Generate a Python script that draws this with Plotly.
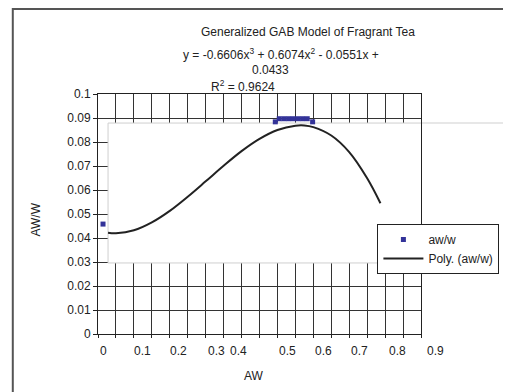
import plotly.graph_objects as go

# ---- data ----
aw_points = [0.014, 0.494, 0.505, 0.518, 0.531, 0.544, 0.557, 0.570, 0.583, 0.598]
aww_points = [0.0458, 0.0884, 0.0897, 0.0897, 0.0897, 0.0897, 0.0897, 0.0897, 0.0897, 0.0884]

poly_x = [0.028, 0.05, 0.10, 0.15, 0.20, 0.25, 0.30, 0.35, 0.40, 0.45, 0.50, 0.55, 0.575,
          0.60, 0.65, 0.70, 0.75, 0.787]
poly_y = [0.0422, 0.0420, 0.0432, 0.0465, 0.0513, 0.0572, 0.0636, 0.0701, 0.0762, 0.0813,
          0.0850, 0.0868, 0.0869, 0.0862, 0.0827, 0.0758, 0.0649, 0.0545]

x_tick_labels = ["0", "0.1", "0.2", "0.3", "0.4", "0.5", "0.6", "0.7", "0.8", "0.9"]
# where each label sits on the x scale in the picture
x_tick_label_pos = [0.014, 0.124, 0.224, 0.331, 0.392, 0.527, 0.627, 0.729, 0.834, 0.940]

chart_title = "Generalized GAB Model of Fragrant Tea"
eq_lines = ["y = -0.6606x<sup>3</sup> + 0.6074x<sup>2</sup> - 0.0551x +", "0.0433",
            "R<sup>2</sup> = 0.9624"]

X_RANGE = [0, 0.9]
Y_RANGE = [0, 0.1]

FONT = "Liberation Sans, Arial, sans-serif"
TXT = "#222"

fig = go.Figure()
fig.add_trace(go.Scatter(
    x=aw_points, y=aww_points, mode="markers", name="aw/w",
    marker=dict(symbol="square", size=5, color="#333399"),
    cliponaxis=False,
))
fig.add_trace(go.Scatter(
    x=poly_x, y=poly_y, mode="lines", name="Poly. (aw/w)",
    line=dict(color="#222", width=2, shape="spline"),
))

# page pixel -> paper fraction (plot area spans page x 98..424, y 94..334)
def px(xp):
    return (xp - 98) / 326
def py(yp):
    return (334 - yp) / 240

def ann(x, y, text, xref="paper", yref="paper", **kw):
    d = dict(x=x, y=y, xref=xref, yref=yref, text=text, showarrow=False,
             xanchor="center", yanchor="middle",
             font=dict(family=FONT, size=12, color=TXT))
    d.update(kw)
    return d

annotations = []
for lab, pos in zip(x_tick_labels, x_tick_label_pos):
    # x-scale value expressed as a fraction of the axis so labels past the end still show
    annotations.append(ann((pos - X_RANGE[0]) / (X_RANGE[1] - X_RANGE[0]), py(351), lab))

annotations += [
    ann(px(310), py(32), chart_title),
    ann(px(283), py(54), eq_lines[0]),
    ann(px(272), py(70), eq_lines[1]),
    ann(px(244), py(86), eq_lines[2]),
    ann(px(255), py(376), "AW"),
    ann(px(35), py(220), "AW/W", textangle=-90),
]

shapes = [
    # white box (trendline label area) covering the grid, inside the plot
    dict(type="rect", xref="x", yref="y", x0=0.028, x1=0.95, y0=0.0296, y1=0.0879,
         fillcolor="white", line=dict(color="#cfcfcf", width=1), layer="between"),
    # its top edge continuing outside the plot
    dict(type="line", xref="paper", yref="paper", x0=1.0, x1=px(515), y0=py(123), y1=py(123),
         line=dict(color="#cfcfcf", width=1), layer="below"),
    # outer chart frame
    dict(type="rect", xref="paper", yref="paper", x0=px(12), x1=px(530), y0=py(410), y1=py(9),
         fillcolor="rgba(0,0,0,0)", line=dict(color="#555", width=2), layer="below"),
]

fig.update_layout(
    width=503, height=384,
    margin=dict(l=90, r=87, t=86, b=58),
    paper_bgcolor="white", plot_bgcolor="white",
    font=dict(family=FONT, size=12, color=TXT),
    showlegend=True,
    legend=dict(x=px(380), y=py(224), xanchor="left", yanchor="top",
                bgcolor="white", bordercolor="#222", borderwidth=1,
                font=dict(family=FONT, size=12, color=TXT), itemwidth=40,
                tracegroupgap=0),
    annotations=annotations,
    shapes=shapes,
    xaxis=dict(range=X_RANGE, dtick=0.05, tick0=0, showgrid=True, gridcolor="#333", gridwidth=1,
               showline=True, linecolor="#222", linewidth=1, mirror=True,
               ticks="outside", ticklen=3, tickcolor="#222", showticklabels=False,
               zeroline=False, fixedrange=True),
    yaxis=dict(range=Y_RANGE, dtick=0.01, tick0=0, showgrid=True, gridcolor="#333", gridwidth=1,
               showline=True, linecolor="#222", linewidth=1, mirror=True,
               ticks="outside", ticklen=4, tickcolor="#222",
               tickfont=dict(family=FONT, size=12, color=TXT), zeroline=False,
               fixedrange=True),
)

fig.write_html("out.html")
